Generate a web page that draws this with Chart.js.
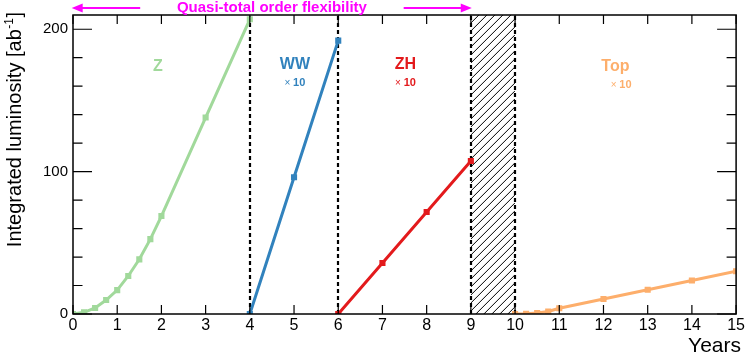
<!DOCTYPE html>
<html><head><meta charset="utf-8">
<script src="https://cdn.jsdelivr.net/npm/chart.js@4.4.1/dist/chart.umd.min.js"></script>
<style>html,body{margin:0;padding:0;background:#fff}#wrap{width:747px;height:355px;position:relative}</style>
</head><body><div id="wrap"><canvas id="c"></canvas></div>
<script>
// ---- data ----
const zYears   = [0, 0.25, 0.5, 0.75, 1, 1.25, 1.5, 1.75, 2, 3, 4];
const zLumi    = [0, 1.2, 4.2, 9.8, 16.8, 26.7, 38.4, 52.6, 68.8, 138, 207];
const wwYears  = [4, 5, 6];
const wwLumi   = [0, 96, 192];
const zhYears  = [6, 7, 8, 9];
const zhLumi   = [0, 35.8, 71.6, 107.5];
const topYears = [10, 10.25, 10.5, 10.75, 11, 12, 13, 14, 15];
const topLumi  = [0, 0.2, 0.7, 1.8, 4, 10.5, 17, 23.5, 30];
const xTickValues = [0,1,2,3,4,5,6,7,8,9,10,11,12,13,14,15];
const yTickValues = [0,20,40,60,80,100,120,140,160,180,200];
const yLabelValues = [0,100,200];
const separators = [4, 6, 9, 10];
const hatchRange = [9, 10];
const stageNames = ['Z', 'WW', 'ZH', 'Top'];
const stageScale = ['', '10', '10', '10'];
const titleText = 'Quasi-total order flexibility';
const yTitle = 'Integrated luminosity [ab';
const yTitleSup = '-1';
const xTitle = 'Years';

// ---- styles / positions ----
const COLORS = ['#a1d99b', '#3182bd', '#e31a1c', '#fdae6b'];
const FONT = '"Liberation Sans", Arial, Helvetica, sans-serif';
const stagePos = [[1.92, 174], [5.02, 175], [7.52, 175], [12.27, 174]];
const scalePos = [[0,0], [5.02, 162], [7.52, 162], [12.4, 161]];

function pts(xs, ys){ return xs.map((x,i)=>({x, y: ys[i]})); }
function ds(xs, ys, c){
  return { data: pts(xs, ys), borderColor: c, backgroundColor: c, borderWidth: 3,
    pointStyle: 'rect', pointRadius: 2.2, pointHoverRadius: 2.2, tension: 0, fill: false };
}

const deco = {
  id: 'deco',
  beforeDatasetsDraw(chart){
    const {ctx, chartArea: a, scales: {x, y}} = chart;
    const x9 = x.getPixelForValue(hatchRange[0]), x10 = x.getPixelForValue(hatchRange[1]);
    const w = x10 - x9;
    ctx.save();
    ctx.beginPath(); ctx.rect(x9, a.top, w, a.bottom - a.top); ctx.clip();
    ctx.strokeStyle = '#000'; ctx.lineWidth = 1;
    for (let c = a.top - w; c < a.bottom + w; c += 8){
      ctx.beginPath(); ctx.moveTo(x9, c + w); ctx.lineTo(x10, c); ctx.stroke();
    }
    ctx.restore();
    ctx.save();
    ctx.strokeStyle = '#000'; ctx.lineWidth = 2.2; ctx.setLineDash([4, 3]);
    separators.forEach(v => {
      const px = Math.round(x.getPixelForValue(v));
      ctx.beginPath(); ctx.moveTo(px, a.bottom); ctx.lineTo(px, a.top); ctx.stroke();
    });
    ctx.restore();
  },
  afterDraw(chart){
    const {ctx, chartArea: a, scales: {x, y}} = chart;
    ctx.save();
    // frame
    ctx.strokeStyle = '#000'; ctx.lineWidth = 1.5;
    ctx.strokeRect(a.left, a.top, a.right - a.left, a.bottom - a.top);
    ctx.lineWidth = 1.2;
    xTickValues.forEach(v => {
      const px = x.getPixelForValue(v);
      ctx.beginPath(); ctx.moveTo(px, a.bottom); ctx.lineTo(px, a.bottom - 9);
      ctx.moveTo(px, a.top); ctx.lineTo(px, a.top + 9); ctx.stroke();
    });
    yTickValues.forEach(v => {
      const py = y.getPixelForValue(v);
      const L = yLabelValues.includes(v) ? 19 : 9.5;
      ctx.beginPath(); ctx.moveTo(a.left, py); ctx.lineTo(a.left + L, py);
      ctx.moveTo(a.right, py); ctx.lineTo(a.right - L, py); ctx.stroke();
    });
    // stage labels
    ctx.textBaseline = 'middle';
    stageNames.forEach((n, i) => {
      ctx.fillStyle = COLORS[i];
      ctx.textAlign = 'center';
      ctx.font = 'bold 16px ' + FONT;
      ctx.fillText(n, x.getPixelForValue(stagePos[i][0]), y.getPixelForValue(stagePos[i][1]));
      if (stageScale[i]) {
        const cx = x.getPixelForValue(scalePos[i][0]), cy = y.getPixelForValue(scalePos[i][1]);
        ctx.font = '10px ' + FONT; const wx = ctx.measureText('× ').width;
        ctx.font = 'bold 11px ' + FONT; const wn = ctx.measureText(stageScale[i]).width;
        const sx = cx - (wx + wn) / 2;
        ctx.textAlign = 'left';
        ctx.font = '10px ' + FONT; ctx.fillText('× ', sx, cy);
        ctx.font = 'bold 11px ' + FONT; ctx.fillText(stageScale[i], sx + wx, cy);
      }
    });
    // top title and arrows
    const ty = a.top - 7;
    ctx.textAlign = 'center';
    ctx.fillStyle = '#ff00ff'; ctx.strokeStyle = '#ff00ff';
    ctx.font = 'bold 15px ' + FONT;
    ctx.fillText(titleText, x.getPixelForValue(4.5), ty);
    function arrow(fromV, toV){
      const x0 = x.getPixelForValue(fromV), x1 = x.getPixelForValue(toV);
      const dir = Math.sign(x1 - x0);
      ctx.lineWidth = 2;
      ctx.beginPath(); ctx.moveTo(x0, ty); ctx.lineTo(x1 - dir*8, ty); ctx.stroke();
      ctx.beginPath(); ctx.moveTo(x1, ty); ctx.lineTo(x1 - dir*11, ty - 4.5); ctx.lineTo(x1 - dir*11, ty + 4.5); ctx.closePath(); ctx.fill();
    }
    arrow(1.52, -0.03);
    arrow(7.48, 9.02);
    // axis titles
    ctx.fillStyle = '#000';
    ctx.font = '21px ' + FONT;
    ctx.textAlign = 'right'; ctx.textBaseline = 'alphabetic';
    ctx.fillText(xTitle, 741, 352);
    ctx.restore();

    ctx.save();
    const big = '20px ' + FONT;
    const supFont = '12px ' + FONT;
    ctx.font = big; const w1 = ctx.measureText(yTitle).width; const w3 = ctx.measureText(']').width;
    ctx.font = supFont; const w2 = ctx.measureText(yTitleSup).width;
    const W = w1 + w2 + w3 + 1;
    ctx.fillStyle = '#000';
    ctx.translate(21, 12 + W); ctx.rotate(-Math.PI/2);
    ctx.textAlign = 'left'; ctx.textBaseline = 'alphabetic';
    ctx.font = big; ctx.fillText(yTitle, 0, 0);
    ctx.font = supFont; ctx.fillText(yTitleSup, w1 + 0.5, -8);
    ctx.font = big; ctx.fillText(']', w1 + w2 + 1, 0);
    ctx.restore();
  }
};

new Chart(document.getElementById('c'), {
  type: 'line',
  data: { datasets: [
    ds(zYears, zLumi, COLORS[0]),
    ds(wwYears, wwLumi, COLORS[1]),
    ds(zhYears, zhLumi, COLORS[2]),
    ds(topYears, topLumi, COLORS[3])
  ]},
  options: {
    responsive: true, maintainAspectRatio: false, animation: false,
    layout: { padding: { top: 15, right: 8, left: 0, bottom: 0 } },
    plugins: { legend: { display: false }, tooltip: { enabled: false } },
    scales: {
      x: { type: 'linear', min: 0, max: 15,
        afterBuildTicks: s => { s.ticks = xTickValues.map(v => ({value: v})); },
        afterFit: s => { s.height = 41; },
        grid: { display: false, drawTicks: false }, border: { display: false },
        ticks: { color: '#000', padding: 2, font: { family: FONT, size: 16 }, maxRotation: 0, autoSkip: false } },
      y: { type: 'linear', min: 0, max: 210,
        afterBuildTicks: s => { s.ticks = yTickValues.map(v => ({value: v})); },
        afterFit: s => { s.width = 73; },
        grid: { display: false, drawTicks: false }, border: { display: false },
        ticks: { color: '#000', padding: 5, font: { family: FONT, size: 15 }, autoSkip: false,
          callback: v => yLabelValues.includes(v) ? String(v) : '' } }
    }
  },
  plugins: [deco]
});
</script></body></html>
